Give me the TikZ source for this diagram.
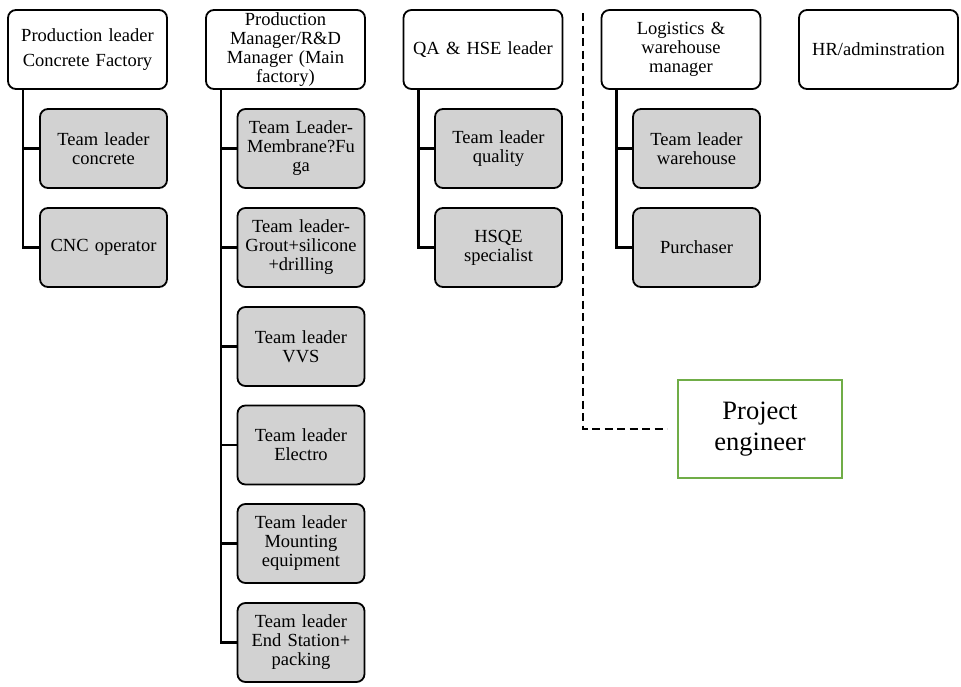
\documentclass[tikz,border=0pt]{standalone}
\usepackage{fontspec}
\setmainfont{Liberation Serif}
\newfontfamily\orgfont{Liberation Serif}
\usetikzlibrary{calc}
\begin{document}
\begin{tikzpicture}[x=1pt,y=-1pt,
  head/.style={draw=black,line width=1.8pt,rounded corners=8pt,fill=white,
    minimum width=159pt,minimum height=79pt,align=center,inner sep=2pt,
    text width=152pt,font=\orgfont\fontsize{18.5}{19}\selectfont},
  member/.style={head,fill=gray!35,minimum width=127pt,text width=122pt},
  link/.style={line width=2.3pt},
  projbox/.style={draw={rgb,255:red,112;green,173;blue,71},line width=2pt,
    minimum width=164pt,minimum height=98pt,align=center,
    font=\orgfont\fontsize{26.5}{31}\selectfont},
  dotted link/.style={line width=1.3pt,dash pattern=on 8pt off 4.5pt}]
\useasboundingbox (0,0) rectangle (961,686);

% heads of the departments
\node[head,font=\orgfont\fontsize{18.5}{25.5}\selectfont] (b1) at (87.5,49.5)
  {Production leader\\Concrete Factory};
\node[head] (b2) at (285.5,49.5) {Production\\Manager/R\&D\\Manager (Main\\factory)};
\node[head] (b3) at (483,49.5) {QA \& HSE leader};
\node[head] (b4) at (681,49.5) {Logistics \&\\warehouse\\manager};
\node[head] (b5) at (878.5,49.5) {HR/adminstration};

% concrete factory
\node[member] (c11) at (103.5,148.5) {Team leader\\concrete};
\node[member] (c12) at (103.5,247.5) {CNC operator};

% main factory
\node[member] (c21) at (301,148.5) {Team Leader-\\Membrane?Fu\\ga};
\node[member] (c22) at (301,247.5) {Team leader-\\Grout+silicone\\+drilling};
\node[member] (c23) at (301,346.5) {Team leader\\VVS};
\node[member] (c24) at (301,445) {Team leader\\Electro};
\node[member] (c25) at (301,543.5) {Team leader\\Mounting\\equipment};
\node[member] (c26) at (301,642.5) {Team leader\\End Station+\\packing};

% quality
\node[member] (c31) at (498.5,148.5) {Team leader\\quality};
\node[member] (c32) at (498.5,247.5) {HSQE\\specialist};

% logistics
\node[member] (c41) at (696.5,148.5) {Team leader\\warehouse};
\node[member] (c42) at (696.5,247.5) {Purchaser};

% project engineer
\node[projbox] (pe) at (760,429) {Project\\engineer};

% reporting lines
\foreach \p/\c in {b1/c11,b1/c12,b2/c21,b2/c22,b2/c23,b2/c24,b2/c25,b2/c26,
                   b3/c31,b3/c32,b4/c41,b4/c42}
  \draw[link] ($(\p.south west)+(16,0)$) |- (\c.west);

% dashed reporting line
\coordinate (dtop) at (583,13);
\draw[dotted link] (dtop) |- ([xshift=-10pt]pe.west);
\end{tikzpicture}
\end{document}
